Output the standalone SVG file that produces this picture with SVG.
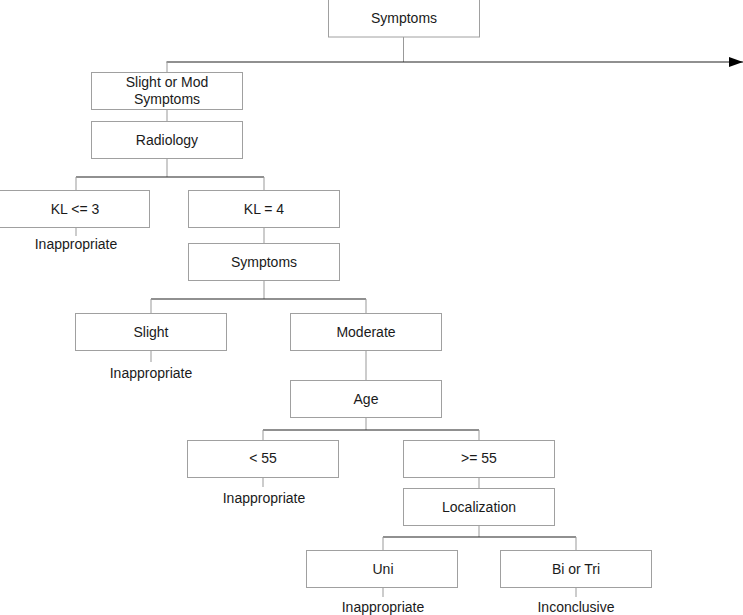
<svg xmlns="http://www.w3.org/2000/svg" width="743" height="615" viewBox="0 0 743 615">
<style>
.box{fill:#fff;stroke:#a0a0a0;stroke-width:1}
.t{font-family:"Liberation Sans",Arial,sans-serif;font-size:14px;fill:#1a1a1a;text-anchor:middle}
.h{stroke:#222;stroke-width:1.2;fill:none}
.v{stroke:#999;stroke-width:1;fill:none}
</style>
<defs>
<marker id="arr" markerWidth="14" markerHeight="10" refX="14" refY="5" orient="auto" markerUnits="userSpaceOnUse">
<path d="M0,0 L14,5 L0,10 Z" fill="#000"/>
</marker>
</defs>
<rect width="743" height="615" fill="#fff"/>
<g id="connectors">
<line class="v" x1="403.5" y1="37" x2="403.5" y2="62"/>
<line class="h" x1="166.5" y1="62" x2="743" y2="62" marker-end="url(#arr)"/>
<line class="v" x1="167" y1="62" x2="167" y2="72"/>
<line class="v" x1="167" y1="109" x2="167" y2="121"/>
<line class="v" x1="167" y1="159" x2="167" y2="177"/>
<line class="h" x1="76" y1="177" x2="264" y2="177"/>
<line class="v" x1="76" y1="177" x2="76" y2="190"/>
<line class="v" x1="264" y1="177" x2="264" y2="190"/>
<line class="v" x1="76" y1="228" x2="76" y2="236"/>
<line class="v" x1="264" y1="228" x2="264" y2="243"/>
<line class="v" x1="264" y1="280" x2="264" y2="299"/>
<line class="h" x1="151" y1="299" x2="366" y2="299"/>
<line class="v" x1="151" y1="299" x2="151" y2="313"/>
<line class="v" x1="366" y1="299" x2="366" y2="313"/>
<line class="v" x1="151" y1="351" x2="151" y2="362"/>
<line class="v" x1="366" y1="351" x2="366" y2="380"/>
<line class="v" x1="366" y1="418" x2="366" y2="430"/>
<line class="h" x1="263" y1="430" x2="479" y2="430"/>
<line class="v" x1="263" y1="430" x2="263" y2="440"/>
<line class="v" x1="479" y1="430" x2="479" y2="440"/>
<line class="v" x1="263" y1="477" x2="263" y2="487"/>
<line class="v" x1="479" y1="477" x2="479" y2="488"/>
<line class="v" x1="479" y1="526" x2="479" y2="537"/>
<line class="h" x1="383" y1="537" x2="576" y2="537"/>
<line class="v" x1="383" y1="537" x2="383" y2="551"/>
<line class="v" x1="576" y1="537" x2="576" y2="551"/>
<line class="v" x1="383" y1="588" x2="383" y2="597"/>
<line class="v" x1="576" y1="588" x2="576" y2="597"/>
</g>
<g id="n-symptoms-root"><rect class="box" x="328.5" y="-0.5" width="151" height="37.5"/><text class="t" x="404" y="23">Symptoms</text></g>
<g id="n-slight-mod"><rect class="box" x="91.5" y="72.5" width="151" height="37"/><text class="t" x="167" y="87">Slight or Mod</text><text class="t" x="167" y="104">Symptoms</text></g>
<g id="n-radiology"><rect class="box" x="91.5" y="121.5" width="151" height="37"/><text class="t" x="167" y="145">Radiology</text></g>
<g id="n-kl3"><rect class="box" x="-0.5" y="190.5" width="150" height="37"/><text class="t" x="75" y="214">KL &lt;= 3</text></g>
<g id="n-kl3-out"><text class="t" x="76" y="249">Inappropriate</text></g>
<g id="n-kl4"><rect class="box" x="188.5" y="190.5" width="151" height="37"/><text class="t" x="264" y="214">KL = 4</text></g>
<g id="n-symptoms2"><rect class="box" x="188.5" y="243.5" width="151" height="37"/><text class="t" x="264" y="267">Symptoms</text></g>
<g id="n-slight"><rect class="box" x="75.5" y="313.5" width="151" height="37"/><text class="t" x="151" y="337">Slight</text></g>
<g id="n-slight-out"><text class="t" x="151" y="378">Inappropriate</text></g>
<g id="n-moderate"><rect class="box" x="290.5" y="313.5" width="151" height="37"/><text class="t" x="366" y="337">Moderate</text></g>
<g id="n-age"><rect class="box" x="290.5" y="380.5" width="151" height="37"/><text class="t" x="366" y="404">Age</text></g>
<g id="n-lt55"><rect class="box" x="187.5" y="440.5" width="151" height="37"/><text class="t" x="263" y="463">&lt; 55</text></g>
<g id="n-lt55-out"><text class="t" x="264" y="503">Inappropriate</text></g>
<g id="n-ge55"><rect class="box" x="403.5" y="440.5" width="151" height="37"/><text class="t" x="479" y="463">&gt;= 55</text></g>
<g id="n-localization"><rect class="box" x="403.5" y="488.5" width="151" height="37"/><text class="t" x="479" y="512">Localization</text></g>
<g id="n-uni"><rect class="box" x="306.5" y="550.5" width="151" height="37"/><text class="t" x="383" y="574">Uni</text></g>
<g id="n-uni-out"><text class="t" x="383" y="612">Inappropriate</text></g>
<g id="n-bitri"><rect class="box" x="500.5" y="550.5" width="151" height="37"/><text class="t" x="576" y="574">Bi or Tri</text></g>
<g id="n-bitri-out"><text class="t" x="576" y="612">Inconclusive</text></g>
</svg>
